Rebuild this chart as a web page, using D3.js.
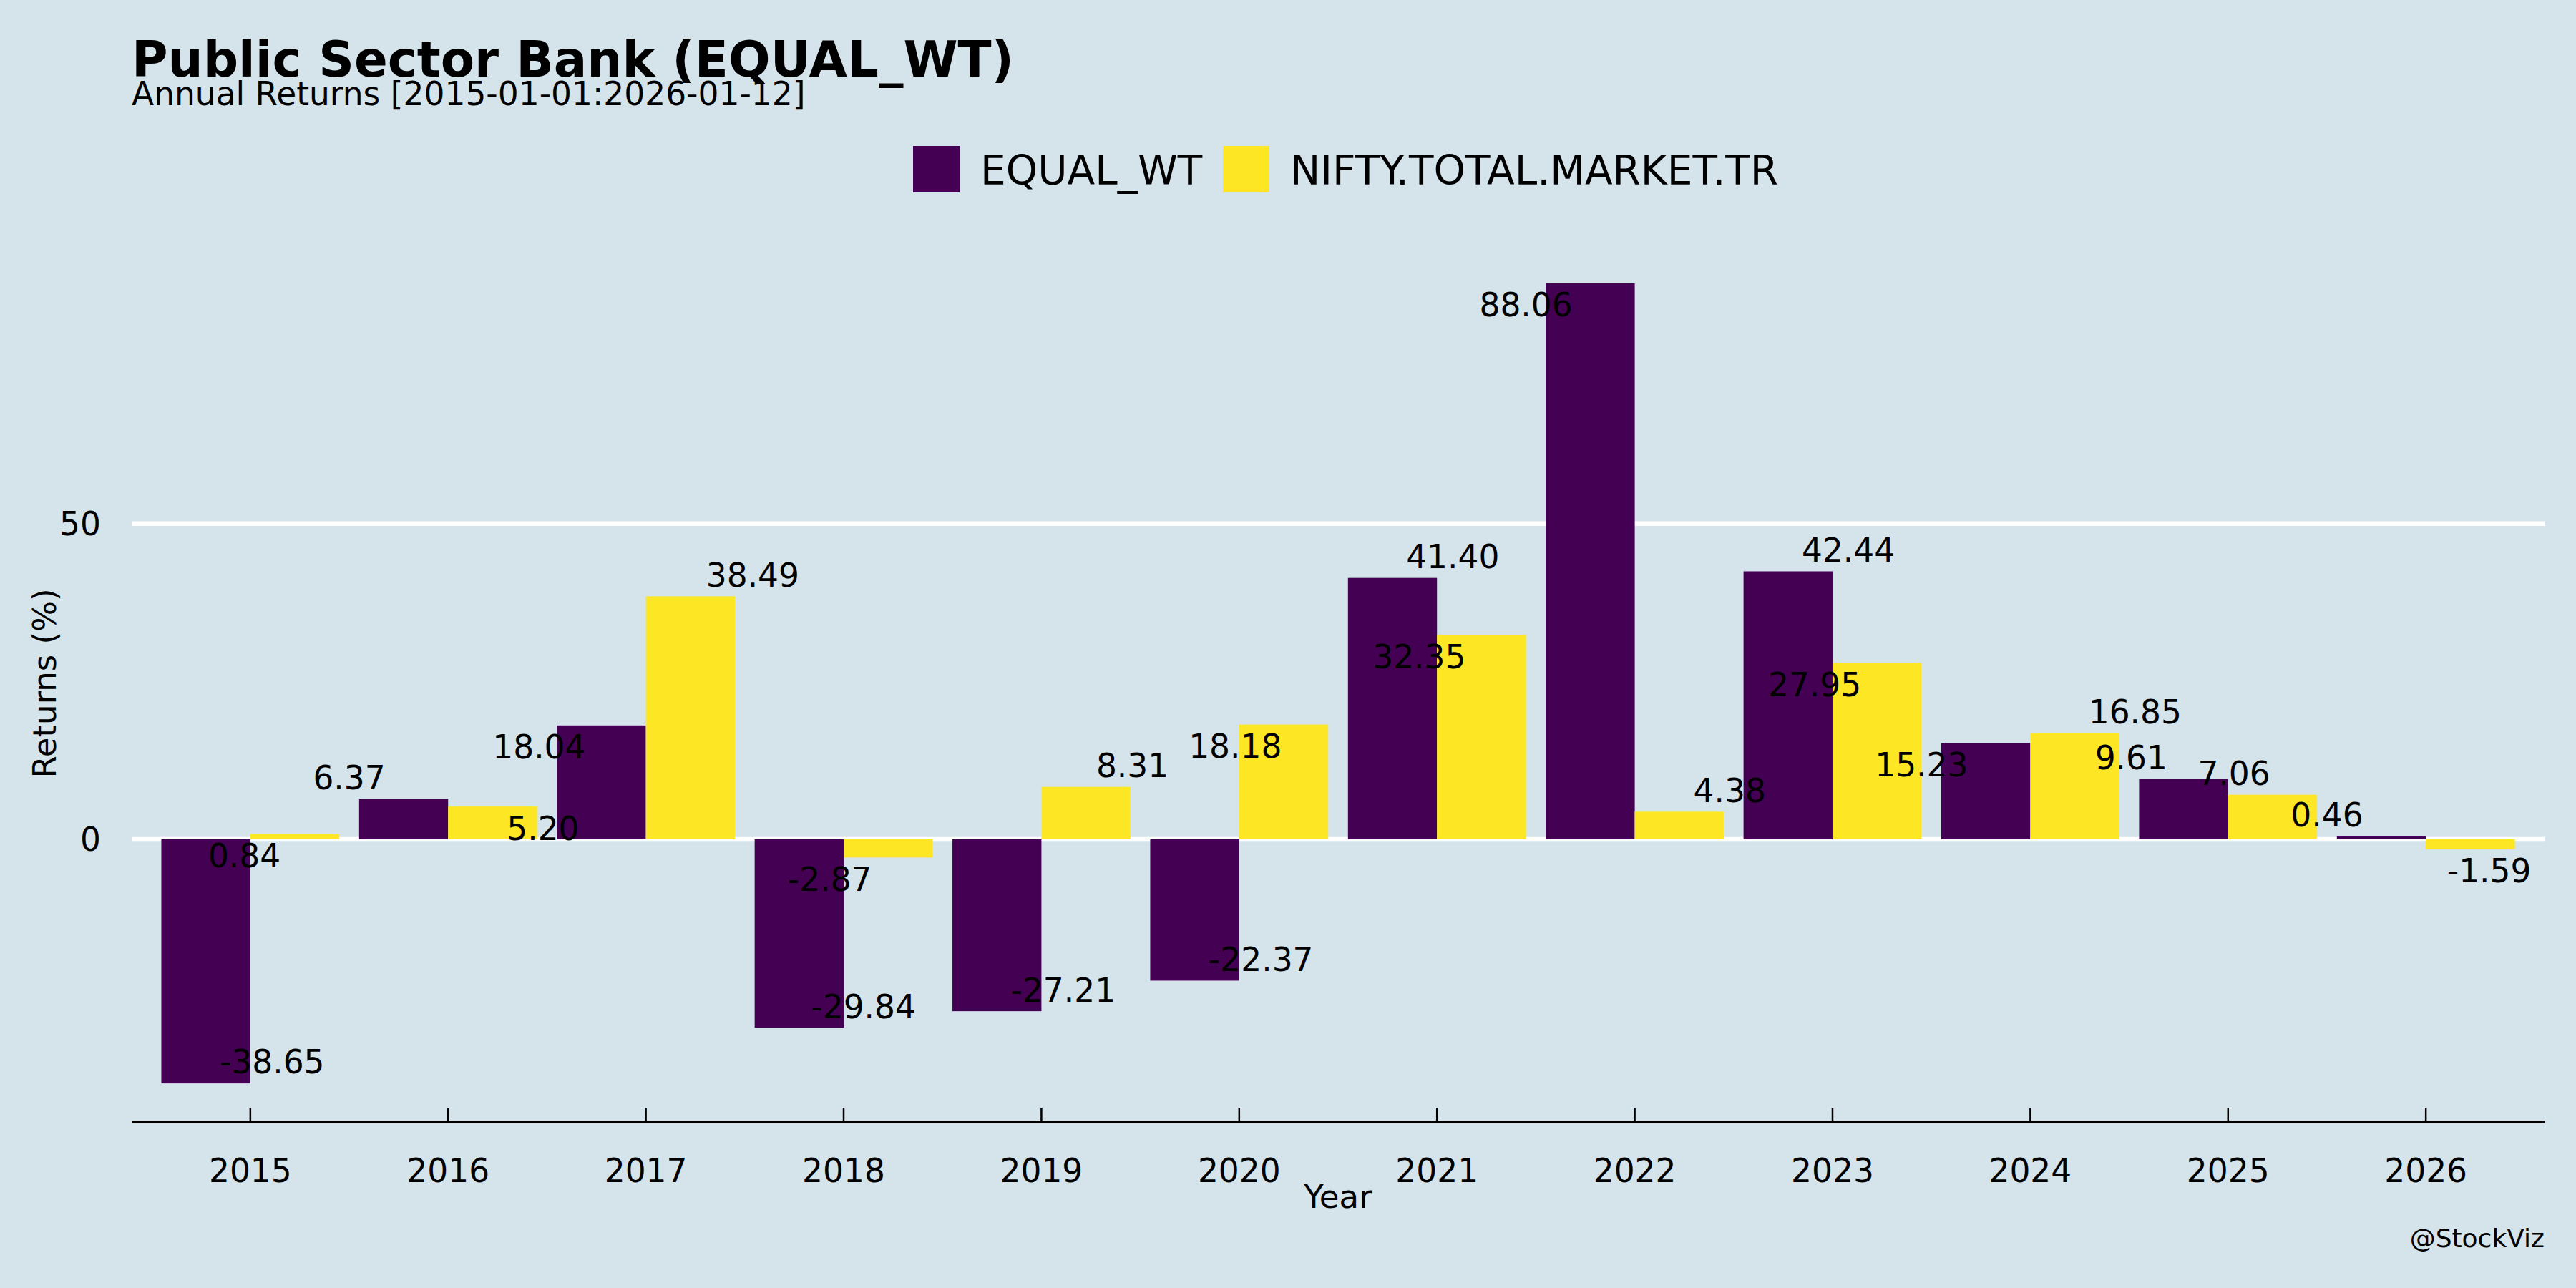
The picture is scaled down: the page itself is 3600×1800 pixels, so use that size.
<!DOCTYPE html>
<html><head><meta charset="utf-8">
<script src="https://cdn.jsdelivr.net/npm/d3@7"></script>
<style>body{margin:0;background:#d5e4eb;} svg{display:block;font-family:"DejaVu Sans",sans-serif;}</style>
</head><body><svg id="c" width="3600" height="1800"></svg>
<script>
const years = [2015,2016,2017,2018,2019,2020,2021,2022,2023,2024,2025,2026];
const seriesNames = ["EQUAL_WT","NIFTY.TOTAL.MARKET.TR"];
const equalWt = [-38.65,6.37,18.04,-29.84,-27.21,-22.37,41.40,88.06,42.44,15.23,9.61,0.46];
const nifty = [0.84,5.20,38.49,-2.87,8.31,18.18,32.35,4.38,27.95,16.85,7.06,-1.59];
const yTicks = [0,50];
const titleText = "Public Sector Bank (EQUAL_WT)";
const subtitleText = "Annual Returns [2015-01-01:2026-01-12]";

// label layout (offset of label centre from group centre in category units, and side: 1 above, -1 below)
const nudgeEW = [0.11,-0.50,-0.54,0.10,0.11,0.11,0.08,-0.55,0.08,-0.55,-0.49,-0.50];
const sideEW  = [1,1,-1,1,1,1,1,-1,1,-1,1,1];
const nudgeNT = [-0.03,0.48,0.54,-0.07,0.46,-0.02,-0.09,0.48,-0.09,0.53,0.03,0.32];
const sideNT  = [-1,-1,1,-1,1,-1,-1,1,-1,1,1,-1];

const colors = ["#440154","#fde725"];
const svg = d3.select("#c");
svg.append("rect").attr("width",3600).attr("height",1800).attr("fill","#d5e4eb");

const L=184,R=3556,T=340,B=1570;
const x = d3.scaleBand().domain(years).range([L,R]).paddingInner(0).paddingOuter(0.1);
const lo = Math.min(d3.min(equalWt),d3.min(nifty)), hi = Math.max(d3.max(equalWt),d3.max(nifty));
const pad = (hi-lo)*0.05;
const y = d3.scaleLinear().domain([lo-pad,hi+pad]).range([B,T]);
const step = x.bandwidth();
const bw = step*0.45;
const cx = yr => x(yr)+step/2;

// grid
svg.append("g").selectAll("line").data(yTicks).join("line")
  .attr("x1",L).attr("x2",R).attr("y1",d=>y(d)).attr("y2",d=>y(d))
  .attr("stroke","#fff").attr("stroke-width",6.5);
// y tick labels
svg.append("g").selectAll("text").data(yTicks).join("text")
  .attr("x",141).attr("y",d=>y(d)).attr("dy","0.36em").attr("text-anchor","end")
  .attr("font-size",45.5).attr("fill","#000").text(d=>d);

// bars
const series = [equalWt,nifty];
series.forEach((vals,si)=>{
  svg.append("g").selectAll("rect").data(years).join("rect")
    .attr("x",(d)=>cx(d)-bw+si*bw)
    .attr("width",bw)
    .attr("y",(d,i)=>y(Math.max(0,vals[i])))
    .attr("height",(d,i)=>Math.abs(y(vals[i])-y(0)))
    .attr("fill",colors[si]);
});

// x axis
const xa = svg.append("g");
xa.append("line").attr("x1",L).attr("x2",R).attr("y1",1568).attr("y2",1568).attr("stroke","#000").attr("stroke-width",4);
xa.selectAll("line.t").data(years).join("line").attr("class","t")
  .attr("x1",d=>cx(d)).attr("x2",d=>cx(d)).attr("y1",1548).attr("y2",1568).attr("stroke","#000").attr("stroke-width",2.5);
xa.selectAll("text").data(years).join("text")
  .attr("x",d=>cx(d)).attr("y",1652).attr("text-anchor","middle").attr("font-size",45.5).text(d=>d);

// labels
const labelData = [];
years.forEach((yr,i)=>{
  labelData.push({yr,v:equalWt[i],dx:nudgeEW[i],s:sideEW[i]});
  labelData.push({yr,v:nifty[i],dx:nudgeNT[i],s:sideNT[i]});
});
svg.append("g").selectAll("text").data(labelData).join("text")
  .attr("x",d=>cx(d.yr)+d.dx*step)
  .attr("y",d=>y(d.v)-d.s*30)
  .attr("dy","0.36em").attr("text-anchor","middle").attr("font-size",45.5).attr("fill","#000")
  .text(d=>d.v.toFixed(2));

// axis titles
svg.append("text").attr("x",(L+R)/2).attr("y",1688).attr("text-anchor","middle").attr("font-size",45).text("Year");
svg.append("text").attr("transform",`translate(78,${(T+B)/2}) rotate(-90)`).attr("text-anchor","middle").attr("font-size",45).text("Returns (%)");

// title
svg.append("text").attr("x",184).attr("y",107).attr("font-size",69).attr("font-weight","bold").text(titleText);
svg.append("text").attr("x",184).attr("y",147).attr("font-size",45.5).text(subtitleText);

// legend
const lg = svg.append("g");
const lx = [1276,1709];
seriesNames.forEach((n,i)=>{
  lg.append("rect").attr("x",lx[i]).attr("y",204).attr("width",65).attr("height",65).attr("fill",colors[i]);
  lg.append("text").attr("x",lx[i]+94).attr("y",258).attr("font-size",56.5).text(n);
});

svg.append("text").attr("x",3556).attr("y",1743).attr("text-anchor","end").attr("font-size",36).text("@StockViz");
</script></body></html>
